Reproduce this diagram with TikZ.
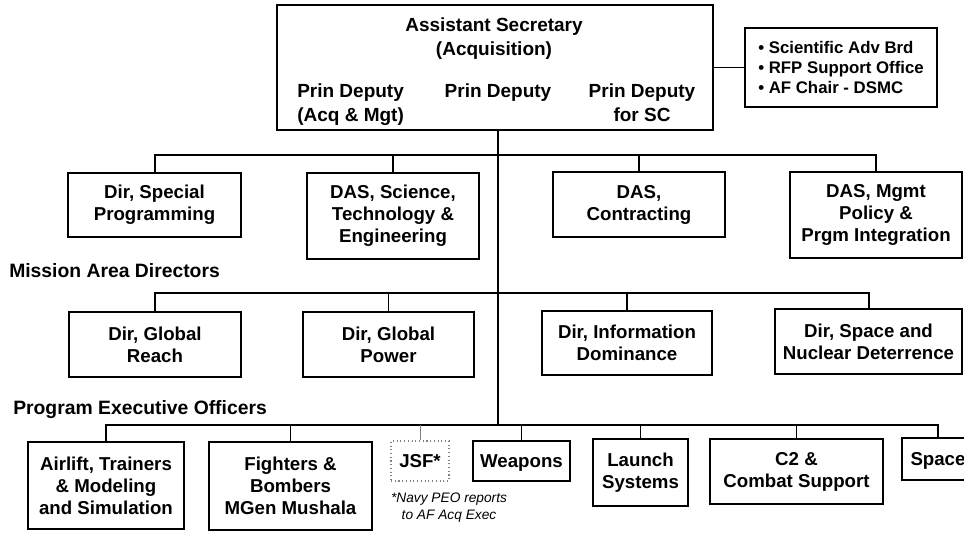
\documentclass[tikz,border=0pt]{standalone}
\usepackage{fontspec}
\setmainfont{Liberation Sans}
\usepackage{tikz}
\usetikzlibrary{positioning}

\begin{document}
\begin{tikzpicture}[x=0.75pt, y=-0.75pt,
        office/.style={draw, line width=1.8pt, fill=white, align=center, inner sep=0pt,
            font=\fontsize{14}{16.5}\selectfont\bfseries},
        dims/.style 2 args={minimum width=#1*0.75pt, minimum height=#2*0.75pt},
        oneline/.style={text depth=0pt},
        deputy/.style={inner sep=0pt, font=\fontsize{14.25}{18}\selectfont\bfseries},
        heading/.style={anchor=west, inner sep=0pt, font=\fontsize{14.5}{17}\selectfont\bfseries},
        bus/.style={line width=1.5pt},
        drop/.style={line width=1pt}]

    \fill[white] (0,0) rectangle (964,533);
    \useasboundingbox (0,0) rectangle (964,533);

    \node[office, line width=2.2pt, dims={436}{125}] (asec) at (495,67.5) {};
    \node[deputy, anchor=north, align=center] (asectitle) at (494,17) {Assistant Secretary\\(Acquisition)};
    \node[deputy, anchor=north west, align=left] (pdam) at (297,83) {Prin Deputy\\(Acq \& Mgt)};
    \node[deputy, anchor=north] (pd) at (498,83) {Prin Deputy};
    \node[deputy, anchor=north, align=center] (pdsc) at (642,83) {Prin Deputy\\for SC};

    \node[office, dims={192}{79}, align=left, font=\fontsize{12.6}{15}\selectfont\bfseries] (staff) at (841,67.5)
        {\textbullet\ Scientific Adv Brd\\\textbullet\ RFP Support Office\\\textbullet\ AF Chair - DSMC};
    \draw[drop] (asec.east) -- (staff.west);

    \coordinate (bus1) at (498,155);
    \coordinate (bus2) at (498,293);
    \coordinate (bus3) at (498,425);

    \node[office, dims={173}{64}] (sprog) at (154.5,205) {Dir, Special\\Programming};
    \node[office, dims={172}{86}] (dasste) at (393,216) {DAS, Science,\\Technology \&\\Engineering};
    \node[office, dims={172}{65}] (dascon) at (639,204.5) {DAS,\\Contracting};
    \node[office, dims={172}{86}] (dasmgt) at (876,215) {DAS, Mgmt\\Policy \&\\Prgm Integration};

    \node[heading] (mad) at (9,271) {Mission Area Directors};

    \node[office, dims={172}{65}] (greach) at (155,344.5) {Dir, Global\\Reach};
    \node[office, dims={171}{65}] (gpower) at (388.5,344.5) {Dir, Global\\Power};
    \node[office, dims={170}{64}] (infodom) at (627,343) {Dir, Information\\Dominance};
    \node[office, dims={187}{65}] (spacenuc) at (868.5,341.5) {Dir, Space and\\Nuclear Deterrence};

    \node[heading] (peo) at (13,410) {Program Executive Officers};

    \node[office, dims={156}{87}] (airlift) at (106,485.5) {Airlift, Trainers\\\& Modeling\\and Simulation};
    \node[office, dims={163}{88}] (fighters) at (290.5,486) {Fighters \&\\Bombers\\MGen Mushala};
    \node[office, oneline, dims={58}{40}, draw=gray, line width=0.8pt, dotted] (jsf) at (420,461) {JSF*};
    \node[office, oneline, dims={97}{40}] (weapons) at (521.5,461) {Weapons};
    \node[office, dims={95}{67}] (launch) at (640.5,472.5) {Launch\\Systems};
    \node[office, dims={173}{65}] (ctwo) at (796.5,471.5) {C2 \&\\Combat Support};
    \node[office, oneline, dims={72}{42}] (space) at (938,459) {Space};

    \node[anchor=north, align=center, inner sep=0pt, font=\fontsize{10.3}{12.75}\selectfont\itshape] (navy) at (449,493)
        {*Navy PEO reports\\to AF Acq Exec};

    \draw[drop] (asec.south -| bus3) -- (bus3);

    \draw[bus] (sprog.north) |- (bus1) -| (dasmgt.north);
    \foreach \n in {dasste, dascon}
        \draw[drop] (\n.north) -- (\n.north |- bus1);

    \draw[bus] (greach.north) |- (bus2) -| (spacenuc.north);
    \foreach \n in {gpower, infodom}
        \draw[drop] (\n.north) -- (\n.north |- bus2);

    \draw[bus] (airlift.north) |- (bus3) -| (space.north);
    \foreach \n in {fighters, weapons, launch, ctwo}
        \draw[drop] (\n.north) -- (\n.north |- bus3);
    \draw[drop, gray, line width=0.6pt] (jsf.north) -- (jsf.north |- bus3);

\end{tikzpicture}
\end{document}
